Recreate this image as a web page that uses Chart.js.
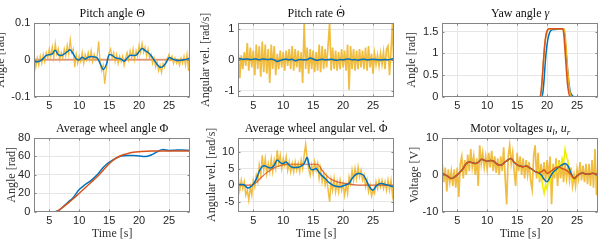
<!DOCTYPE html>
<html lang="en">
<head>
<meta charset="UTF-8">
<title>Balancing robot run</title>
<script src="https://cdn.jsdelivr.net/npm/chart.js"></script>
<style>
  body { margin: 0; background: #fff; width: 598px; height: 242px; overflow: hidden; position: relative; }
  canvas { position: absolute; }
</style>
</head>
<body>
<canvas id="pitch" width="200" height="115" style="left:0;top:0"></canvas>
<canvas id="rate" width="200" height="115" style="left:200px;top:0"></canvas>
<canvas id="yaw" width="198" height="115" style="left:400px;top:0"></canvas>
<canvas id="wheelAng" width="200" height="127" style="left:0;top:115px"></canvas>
<canvas id="wheelVel" width="200" height="127" style="left:200px;top:115px"></canvas>
<canvas id="volt" width="198" height="127" style="left:400px;top:115px"></canvas>
<script>
// sample times: noisy signals every 0.25 s, filtered ones every 0.5 s
const tFine = [];
for (let i = 0; i <= 104; i++) tFine.push(2.5 + i * 0.25);
const tCoarse = [];
for (let i = 0; i <= 52; i++) tCoarse.push(2.5 + i * 0.5);

const timeTicks = [5, 10, 15, 20, 25];
const pitchTicks = [-0.1, 0, 0.1];
const rateTicks = [-1, 0, 1];
const yawTicks = [0, 0.5, 1, 1.5];
const wheelAngTicks = [0, 20, 40, 60, 80];
const wheelVelTicks = [-5, 0, 5, 10];
const voltTicks = [-10, 0, 10];

// pitch angle [rad]
const pitchMeas = [
  0.01, -0.02, 0.005, -0.015, 0.01, -0.01, 0.015, -0.005,
  0.02, 0.005, 0.03, 0.01, 0.035, 0.005, 0.045, 0.015,
  0.03, 0.0, 0.02, 0.005, 0.03, 0.01, 0.04, 0.015,
  0.055, 0.02, 0.03, -0.02, 0.015, -0.01, 0.01, -0.005,
  0.02, -0.01, 0.015, 0.0, 0.02, 0.0, 0.025, -0.005,
  0.015, 0.0, 0.01, 0.05, -0.01, -0.03, -0.015, -0.065,
  -0.03, 0.0, 0.02, 0.03, 0.005, 0.02, -0.005, 0.015,
  -0.01, 0.01, -0.005, 0.01, -0.015, 0.005, 0.02, 0.0,
  0.025, 0.005, 0.03, 0.0, 0.025, 0.01, 0.04, 0.02,
  0.045, 0.02, 0.035, 0.01, 0.03, 0.005, 0.015, -0.01,
  0.005, -0.02, -0.005, -0.03, -0.015, -0.035, -0.01, -0.02,
  0.0, 0.005, 0.015, 0.0, 0.01, -0.01, 0.005, -0.01,
  0.0, -0.015, 0.005, -0.01, 0.01, -0.015, 0.015, -0.03,
  0.04
];
const pitchFilt = [
  -0.005, -0.005, -0.003, 0.004,
  0.012, 0.014, 0.016, 0.026,
  0.014, 0.012, 0.016, 0.022,
  0.027, 0.016, 0.003, 0.0,
  0.007, 0.002, 0.007, 0.009,
  0.008, 0.005, -0.01, -0.026,
  -0.014, 0.014, 0.012, 0.006,
  0.004, 0.002, -0.004, 0.005,
  0.012, 0.012, 0.013, 0.022,
  0.031, 0.025, 0.02, 0.012,
  0.0, -0.012, -0.02, -0.018,
  -0.008, 0.006, 0.003, 0.0,
  -0.002, -0.001, 0.0, 0.002,
  0.004
];
const refT = [2.5, 28.5];
const pitchRef = [0, 0];

// pitch rate [rad/s]
const rateMeas = [
  0.2, -0.6, 0.15, -0.3, 0.25, -0.2, 0.55, -0.35,
  0.4, -0.25, 0.3, -0.5, 0.5, -0.3, 0.45, -0.55,
  0.6, -0.4, 0.5, -0.45, 0.35, -0.75, 0.5, -0.3,
  0.45, -0.5, 0.2, -0.3, 0.3, -0.25, 0.25, -0.35,
  0.3, -0.2, 0.35, -0.3, 0.45, -0.35, 0.35, -0.25,
  0.3, -0.4, 0.25, -0.75, 1.2, -0.3, 0.4, -0.45,
  0.35, -0.3, 0.3, -0.4, 0.25, -0.35, 0.5, -0.4,
  0.45, -0.3, 0.35, -0.25, 0.5, 1.2, -0.35, 0.4,
  -0.3, 0.3, -0.35, 0.25, -0.3, 0.35, -0.25, 0.3,
  -0.35, 0.5, -0.97, 0.45, -0.3, 0.35, -0.35, 0.3,
  -0.3, 0.35, -0.25, 0.3, -0.3, 0.4, -0.35, 0.45,
  -0.25, 0.2, -0.45, 0.2, -0.15, 0.15, -0.2, 0.2,
  -0.15, 0.25, -0.3, 0.35, 0.45, -0.5, 0.3, 1.2,
  -0.4
];
const rateFilt = [
  0.05, 0.03, 0.02, 0.03,
  0.01, 0.02, 0.03, 0.0,
  0.03, 0.02, 0.01, 0.03,
  0.0, -0.05, -0.02, 0.01,
  0.02, 0.0, 0.02, -0.03,
  0.0, 0.01, 0.0, 0.01,
  0.06, 0.03, -0.01, 0.0,
  0.02, 0.0, 0.01, 0.02,
  0.0, -0.01, 0.01, 0.0,
  0.02, 0.03, 0.0, 0.01,
  -0.01, 0.01, 0.02, 0.0,
  0.01, 0.02, 0.01, 0.0,
  0.0, 0.01, 0.0, 0.02,
  0.05
];
const rateRef = [0, 0];

// yaw angle [rad]
const yawRefT = [2.5, 18.8, 19.0, 19.2, 19.4, 19.6, 19.8, 20.0, 20.2, 20.5, 21, 22, 22.6, 22.8, 23.0, 23.2, 23.4, 23.6, 23.8, 28.5];
const yawRef = [0, 0, 0.12, 0.45, 0.85, 1.2, 1.42, 1.52, 1.56, 1.57, 1.57, 1.57, 1.57, 1.42, 1.05, 0.65, 0.3, 0.1, 0, 0];
const yawCmdT = [2.5, 18.8, 19.0, 19.2, 19.4, 19.6, 19.8, 20.0, 20.2, 20.5, 21, 22, 22.8, 23.0, 23.2, 23.4, 23.6, 23.8, 24.0, 28.5];
const yawCmd = [0, 0, 0.1, 0.4, 0.8, 1.15, 1.38, 1.5, 1.55, 1.57, 1.57, 1.57, 1.57, 1.45, 1.1, 0.7, 0.35, 0.12, 0, 0];
const yawMeasT = [2.5, 19.1, 19.3, 19.5, 19.7, 19.9, 20.1, 20.3, 20.5, 20.8, 21.2, 22.0, 22.7, 22.9, 23.1, 23.3, 23.5, 23.7, 23.9, 24.2, 24.5, 28.5];
const yawMeas = [0, 0, 0.1, 0.4, 0.8, 1.1, 1.3, 1.43, 1.5, 1.54, 1.55, 1.56, 1.56, 1.45, 1.15, 0.8, 0.5, 0.25, 0.1, 0.03, 0, 0];

// average wheel angle [rad]
const wheelAngRefT = [2.5, 6, 7, 8, 9, 10, 11, 12, 13, 14, 15, 16, 17, 18, 19, 20, 22, 24, 28.5];
const wheelAngRef = [0, 0, 3.5, 8.5, 14, 20, 26, 32, 38, 45, 52, 57.5, 61, 63, 64.5, 65.2, 65.8, 66, 66];
const wheelAngMeasT = [2.5, 6, 6.5, 7, 8, 9, 10, 11, 12, 13, 14, 14.5, 15, 16, 17, 18, 19, 20, 21, 22, 23, 24, 25, 26, 27, 28.5];
const wheelAngMeas = [0, 0, 1, 3.5, 9.5, 15.5, 24, 29.5, 34, 40, 48, 51, 53.5, 57.5, 60.5, 61, 61, 60.5, 59.8, 61.5, 65, 67.6, 66.5, 66.8, 67, 66.5];

// average wheel angular velocity [rad/s]
const wheelVelMeas = [
  2, -1.5, 1.5, -1, 1, -3, -1.5, -4.5,
  -0.5, -3, 1.5, -0.5, 3, 1, 6, 3,
  9, 4.5, 8, 3.5, 6.5, 4, 8, 4,
  7.5, 5, 10.5, 6.5, 9, 5, 8, 6,
  8.5, 4.5, 7, 4, 6.5, 4, 7, 4.5,
  6.5, 4, 7.5, 5, 9, 12.3, 8, 5,
  3, 6, 3.5, 7, 4.5, 6.5, 2, 5,
  1, 3.5, 0, 2.5, -1.5, -5, 1.5, -1.5,
  2, -2, 1, -2, 1.5, -1.5, 0.5, -3,
  0, -2.5, 2.5, 0.5, 4.5, 1.5, 5, 2,
  5.5, 2.5, 4.5, 1.5, 3, -0.5, 1.5, -2,
  0, -3.3, -1.5, -2.5, 1, -1, 1.5, -0.5,
  1.5, -1, 1, -1.5, 1.5, -1.5, 1.5, -3,
  0.5
];
const wheelVelFilt = [
  0.2, 0.2, 0.1, -0.8,
  -0.6, 0.3, 1.8, 4.2,
  5.6, 5.8, 5.3, 5.2,
  6.0, 7.6, 6.8, 6.5,
  7.0, 6.0, 5.4, 5.3,
  5.4, 5.7, 6.5, 8.3,
  5.0, 4.6, 5.0, 3.8,
  2.8, 2.0, 1.0, 0.3,
  -0.2, -0.4, -0.5, -0.2,
  0.1, 0.6, 2.0, 3.0,
  3.5, 3.4, 2.8, 1.0,
  -0.8, -1.5, -0.3, 0.4,
  0.5, 0.2, 0.0, -0.3,
  -0.6
];
const wheelVelRefT = [2.5, 4.5, 5, 5.5, 6, 6.5, 7, 7.5, 8, 8.5, 9, 9.5, 10, 11, 15.8, 16.3, 16.8, 17.3, 17.8, 18.3, 19, 20, 21, 22, 23, 28.5];
const wheelVelRef = [0, 0, 0.2, 0.8, 1.7, 2.6, 3.4, 4.1, 4.7, 5.2, 5.6, 5.9, 6.1, 6.3, 6.3, 5.0, 3.8, 2.8, 2.0, 1.5, 1.0, 0.6, 0.3, 0.1, 0, 0];

// motor voltages [V]
const voltLMeas = [
  3, -2, 2, -4.5, 1.5, -2, 1, -3,
  1.5, -3.5, 2, -6, 3, 5, -1, 4,
  0, 5.5, 1, 7, 2, 5, 0, 4.5,
  -3, 8, 3, 6, 2, 5, 1.5, 6,
  2, 6.5, 1, 5, 0.5, 4.5, 0, 5,
  1, 7.5, -1, -8, 5, 8, 3, 6,
  1, -3, 6, 1, 5, 0, 4.5, -1,
  4, 0, 3.5, -1.5, -4, 5, 8, -1,
  6, -2, 3, -1.5, 3.5, -2, 4, -1,
  5, -8, 3, -1, 4.5, -3, 4, -1,
  3.5, -2, 3, -1, 2.5, -1.5, 2, -3,
  0, -3, 1.5, -1, 3.5, -1.5, 2.5, -2,
  3, -2.5, 3, -3, 4, -3.5, 7, -5.5,
  3
];
const voltRMeasT = [18.5, 18.75, 19, 19.25, 19.5, 19.75, 20, 20.25, 20.5, 20.75, 21, 21.25, 21.5, 21.75, 22, 22.25, 22.5, 22.75, 23, 23.25, 23.5, 23.75, 24, 24.25, 24.5];
const voltRMeas = [1.5, -1, 0, -3, -5, -2.5, -4, -1, -2, 0.5, 1, 0.5, 2.5, 1, 3, 2, 4.5, 3, 7, 5, 3.5, 1, 0.5, -1.5, -1];
const voltLFilt = [
  0.4, 0.0, -0.5, -1.0,
  -0.6, 0.0, 0.8, 1.8,
  3.1, 3.5, 3.3, 3.1,
  3.4, 4.2, 4.0, 3.7,
  3.9, 3.8, 3.1, 2.6,
  2.8, 3.5, 4.1, 4.4,
  3.4, 2.7, 2.4, 2.2,
  2.4, 2.0, 1.5, 0.9,
  0.6, 0.8, 1.3, 0.4,
  0.8, 1.4, 2.0, 2.1,
  1.7, 1.4, 0.9, 0.0,
  -1.0, -0.3, 0.3, 0.5,
  0.2, 0.2, 0.4, 0.3,
  0.0
];
const voltRFilt = [
  0.4, 0.0, -0.5, -1.0,
  -0.6, 0.0, 0.8, 1.8,
  3.1, 3.5, 3.3, 3.1,
  3.4, 4.2, 4.0, 3.7,
  3.9, 3.8, 3.1, 2.6,
  2.8, 3.5, 4.1, 4.4,
  3.4, 2.7, 2.4, 2.2,
  2.4, 2.0, 1.5, 0.9,
  0.6, 0.0, -1.2, -1.9,
  -0.6, 0.7, 1.4, 2.2,
  2.7, 3.1, 2.4, 0.4,
  -1.0, -0.3, 0.3, 0.5,
  0.2, 0.2, 0.4, 0.3,
  0.0
];

const BLUE = '#0072BD', ORANGE = '#D95319', YELLOW = 'rgba(237,177,32,0.85)', LEMON = '#F2EC00';
const GRID = '#e6e6e6', BOX = '#858585';
const SANS = '"Liberation Sans", Arial, sans-serif';
const SERIF = '"Liberation Serif", "Times New Roman", serif';

function line(ts, ys, color, width, extra) {
  return Object.assign({
    data: ts.map((t, i) => ({ x: t, y: ys[i] })),
    borderColor: color, borderWidth: width, pointRadius: 0, fill: false, tension: 0
  }, extra || {});
}

// box, inward ticks and a centred title made of (italic / subscript / dotted) pieces
const frame = {
  id: 'frame',
  afterDraw(chart, args, opts) {
    const { ctx, chartArea: a, scales } = chart;
    const l = Math.round(a.left) + 0.5, r = Math.round(a.right) - 0.5;
    const t = Math.round(a.top) + 0.5, b = Math.round(a.bottom) - 0.5;
    ctx.save();
    ctx.strokeStyle = BOX;
    ctx.lineWidth = 1;
    ctx.strokeRect(l, t, r - l, b - t);
    ctx.beginPath();
    scales.x.ticks.forEach(tk => {
      const px = Math.round(scales.x.getPixelForValue(tk.value)) + 0.5;
      ctx.moveTo(px, b); ctx.lineTo(px, b - 2);
      ctx.moveTo(px, t); ctx.lineTo(px, t + 2);
    });
    scales.y.ticks.forEach(tk => {
      const py = Math.round(scales.y.getPixelForValue(tk.value)) + 0.5;
      ctx.moveTo(l, py); ctx.lineTo(l + 2, py);
      ctx.moveTo(r, py); ctx.lineTo(r - 2, py);
    });
    ctx.stroke();

    const parts = opts.parts.map(p => {
      const size = p.sub ? 9 : 12;
      const font = (p.it ? 'italic ' : '') + size + 'px ' + SERIF;
      ctx.font = font;
      return { p, font, w: ctx.measureText(p.t).width };
    });
    const total = parts.reduce((s, q) => s + q.w, 0);
    let x = (a.left + a.right) / 2 - total / 2;
    const base = a.top - 6;
    ctx.fillStyle = '#111';
    ctx.textBaseline = 'alphabetic';
    parts.forEach(q => {
      ctx.font = q.font;
      ctx.textAlign = 'left';
      ctx.fillText(q.p.t, x, base + (q.p.sub ? 2.5 : 0));
      if (q.p.dot) {
        ctx.textAlign = 'center';
        ctx.fillText('.', x + q.w / 2, base - 10);
      }
      x += q.w;
    });
    ctx.restore();
  }
};

function panel(id, o) {
  const row2 = !!o.xlabel;
  new Chart(document.getElementById(id), {
    type: 'line',
    data: { datasets: o.datasets },
    options: {
      responsive: false,
      animation: false,
      events: [],
      layout: { padding: { top: 23, right: o.right, left: 0, bottom: 0 } },
      plugins: {
        legend: { display: false },
        tooltip: { enabled: false },
        frame: { parts: o.title }
      },
      scales: {
        x: {
          type: 'linear', min: 2.5, max: 28.5,
          afterBuildTicks: s => { s.ticks = timeTicks.map(v => ({ value: v })); },
          afterFit: s => { s.height = row2 ? 30.3 : 18.3; },
          grid: { color: GRID, drawTicks: false },
          border: { display: false },
          ticks: { font: { family: SANS, size: 11 }, color: '#262626', padding: 3, maxRotation: 0, autoSkip: false },
          title: {
            display: row2, text: o.xlabel || '', color: '#333',
            font: { family: SERIF, size: 12, lineHeight: 1 }, padding: { top: 0, bottom: 2.5 }
          }
        },
        y: {
          min: o.ymin, max: o.ymax,
          afterBuildTicks: s => { s.ticks = o.yticks.map(v => ({ value: v })); },
          afterFit: s => { s.width = o.yw; },
          grid: { color: GRID, drawTicks: false },
          border: { display: false },
          ticks: { font: { family: SANS, size: 11 }, color: '#262626', padding: 4, autoSkip: false, callback: v => String(v) },
          title: {
            display: true, text: o.ylabel, color: '#333',
            font: { family: SERIF, size: 12, lineHeight: 1 }, padding: { top: o.ytp, bottom: 0 }
          }
        }
      }
    },
    plugins: [frame]
  });
}

panel('pitch', {
  title: [{ t: 'Pitch angle Θ' }],
  ylabel: 'Angle [rad]', yw: 34.3, ytp: -5, right: 10,
  ymin: -0.1, ymax: 0.1, yticks: pitchTicks,
  datasets: [
    line(tCoarse, pitchFilt, BLUE, 1.5, { tension: 0.35 }),
    line(tFine, pitchMeas, YELLOW, 1.3),
    line(refT, pitchRef, 'rgba(217,83,25,0.55)', 2)
  ]
});

panel('rate', {
  title: [{ t: 'Pitch rate ' }, { t: 'Θ', dot: true }],
  ylabel: 'Angular vel. [rad/s]', yw: 38.3, ytp: 0, right: 6,
  ymin: -1.2, ymax: 1.2, yticks: rateTicks,
  datasets: [
    line(tCoarse, rateFilt, BLUE, 1.5, { tension: 0.35 }),
    line(tFine, rateMeas, YELLOW, 1.7),
    line(refT, rateRef, ORANGE, 1.2)
  ]
});

panel('yaw', {
  title: [{ t: 'Yaw angle ' }, { t: 'γ', it: true }],
  ylabel: 'Angle [rad]', yw: 42.3, ytp: 5.5, right: 0,
  ymin: 0, ymax: 1.7, yticks: yawTicks,
  datasets: [
    line(yawRefT, yawRef, ORANGE, 1.5, { cubicInterpolationMode: 'monotone' }),
    line(yawCmdT, yawCmd, '#EDB120', 1.5, { cubicInterpolationMode: 'monotone' }),
    line(yawMeasT, yawMeas, BLUE, 1.5, { cubicInterpolationMode: 'monotone' })
  ]
});

panel('wheelAng', {
  title: [{ t: 'Average wheel angle Φ' }],
  ylabel: 'Angle [rad]', yw: 34.3, ytp: 6, right: 10, xlabel: 'Time [s]',
  ymin: 0, ymax: 80, yticks: wheelAngTicks,
  datasets: [
    line(wheelAngRefT, wheelAngRef, ORANGE, 1.5, { cubicInterpolationMode: 'monotone' }),
    line(wheelAngMeasT, wheelAngMeas, BLUE, 1.5, { cubicInterpolationMode: 'monotone' })
  ]
});

panel('wheelVel', {
  title: [{ t: 'Average wheel angular vel. ' }, { t: 'Φ', dot: true }],
  ylabel: 'Angular vel. [rad/s]', yw: 38.3, ytp: 5.5, right: 6, xlabel: 'Time [s]',
  ymin: -8, ymax: 14.2, yticks: wheelVelTicks,
  datasets: [
    line(tCoarse, wheelVelFilt, BLUE, 1.5, { tension: 0.35 }),
    line(wheelVelRefT, wheelVelRef, 'rgba(217,83,25,0.85)', 1.2, { cubicInterpolationMode: 'monotone' }),
    line(tFine, wheelVelMeas, YELLOW, 1.5)
  ]
});

panel('volt', {
  title: [{ t: 'Motor voltages ' }, { t: 'u', it: true }, { t: 'l', it: true, sub: true }, { t: ', ' }, { t: 'u', it: true }, { t: 'r', it: true, sub: true }],
  ylabel: 'Voltage [V]', yw: 42.3, ytp: 9, right: 0, xlabel: 'Time [s]',
  ymin: -10, ymax: 10, yticks: voltTicks,
  datasets: [
    line(tCoarse, voltLFilt, ORANGE, 1.5, { tension: 0.35 }),
    line(tCoarse, voltRFilt, BLUE, 1.5, { tension: 0.35 }),
    line(voltRMeasT, voltRMeas, LEMON, 1.5),
    line(tFine, voltLMeas, YELLOW, 1.7)
  ]
});
</script>
</body>
</html>
